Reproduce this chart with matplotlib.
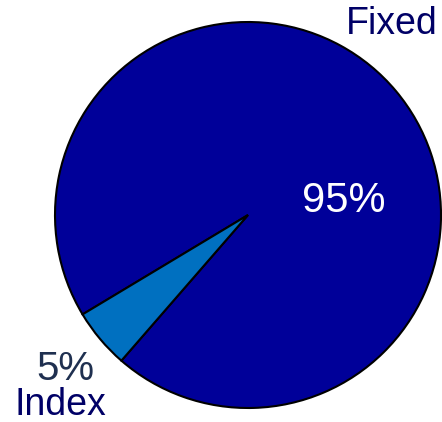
import matplotlib
matplotlib.use("Agg")
import matplotlib.pyplot as plt

categories = ["Fixed", "Index"]
shares = [95, 5]
colors = ["#000099", "#0070C0"]

plt.rcParams['font.family'] = ['Liberation Sans', 'DejaVu Sans']

W, H, dpi = 442, 422, 100
fig = plt.figure(figsize=(W / dpi, H / dpi), dpi=dpi)
cx, cy, r = 248, 215, 193
ax = fig.add_axes([(cx - r) / W, (H - cy - r) / H, 2 * r / W, 2 * r / H])
ax.pie(shares, colors=colors, startangle=229, counterclock=True, radius=1,
       wedgeprops=dict(edgecolor="black", linewidth=1.5))
ax.set_aspect("equal")
ax.axis("off")
ax.set_xlim(-1, 1)
ax.set_ylim(-1, 1)

ax.text(0.746, 0.99, categories[0], color="#000066", fontsize=27, ha="center", va="center", clip_on=False)
ax.text(0.497, 0.07, f"{shares[0]}%", color="white", fontsize=30, ha="center", va="center")
ax.text(-0.945, -0.855, f"{shares[1]}%", color="#1F3050", fontsize=29, ha="center", va="baseline", clip_on=False)
ax.text(-0.974, -1.035, categories[1], color="#000066", fontsize=27, ha="center", va="baseline", clip_on=False)

fig.savefig("out.png", dpi=dpi)
